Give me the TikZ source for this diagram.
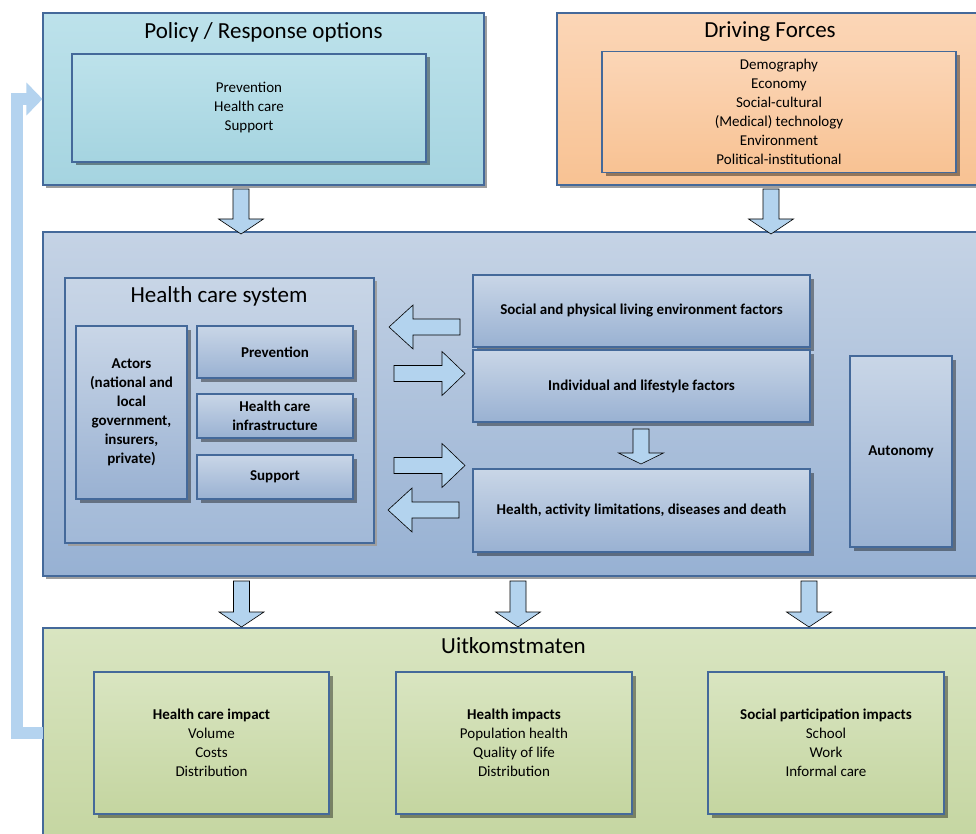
\documentclass[tikz,border=0pt]{standalone}
\usepackage{fontspec}
\setmainfont{Carlito}
\usetikzlibrary{shadows,arrows.meta}
\definecolor{bordercol}{HTML}{44699A}
\definecolor{arrowcol}{HTML}{B3D3EE}
\definecolor{fbcol}{HTML}{B4D3EF}
\definecolor{polT}{HTML}{BDE2EB}
\definecolor{polB}{HTML}{A5D4E0}
\definecolor{drvT}{HTML}{FBD6B7}
\definecolor{drvB}{HTML}{F8C293}
\definecolor{midT}{HTML}{C5D3E5}
\definecolor{midB}{HTML}{97B1D3}
\definecolor{grnT}{HTML}{D9E5C1}
\definecolor{grnB}{HTML}{C4D5A0}
\definecolor{inT}{HTML}{C9D6E7}
\definecolor{inB}{HTML}{99B1D2}
\tikzset{
  box/.style={draw=bordercol, line width=1.1pt, rectangle, inner sep=0pt, align=center,
    font=\fontsize{15}{19}\selectfont},
  outer/.style={box, drop shadow={shadow xshift=3pt, shadow yshift=-3pt, fill=black!38, opacity=1}},
  inner/.style={box, drop shadow={shadow xshift=3.5pt, shadow yshift=-3.5pt, fill=black, opacity=0.4}},
  bfbox/.style={inner, font=\fontsize{15}{19}\selectfont\bfseries},
  title/.style={font=\fontsize{23}{28}\selectfont, inner sep=0pt},
  blockarrow/.style={draw=black, line width=0.6pt, fill=arrowcol, line join=miter},
  pics/darrow/.style 2 args={code={
    \path[blockarrow] (-8,0) -- (-8,{#1-#2}) -- (-22.5,{#1-#2}) -- (0,#1) -- (22.5,{#1-#2}) -- (8,{#1-#2}) -- (8,0) -- cycle;
  }},
  pics/harrow/.style 2 args={code={
    \path[blockarrow] (0,-8) -- ({#1-#2},-8) -- ({#1-#2},-22) -- (#1,0) -- ({#1-#2},22) -- ({#1-#2},8) -- (0,8) -- cycle;
  }},
}
\begin{document}
\begin{tikzpicture}[x=1pt,y=-1pt]
\useasboundingbox (0,0) rectangle (976,834);
\fill[white] (0,0) rectangle (976,834);

% feedback arrow
\coordinate (fbstart) at (43,733);
\coordinate (fbcorner1) at (16.5,733);
\coordinate (fbcorner2) at (16.5,99);

% outer boxes
\node[outer, top color=polT, bottom color=polB, minimum width=441, minimum height=172] (policy) at (263.5,99) {};
\node[title] (policytitle) at (263.5,32) {Policy / Response options};
\node[inner, top color=polT, bottom color=polB, minimum width=354, minimum height=108] (policyin) at (249,108) {Prevention\\Health care\\Support};

\node[outer, top color=drvT, bottom color=drvB, minimum width=427, minimum height=172] (driving) at (770.5,99) {};
\node[title] (drivingtitle) at (770,32) {Driving Forces};
\node[inner, top color=drvT, bottom color=drvB, minimum width=354, minimum height=121] (drivingin) at (779,112) {Demography\\Economy\\Social-cultural\\(Medical) technology\\Environment\\Political-institutional};

\node[outer, top color=midT, bottom color=midB, minimum width=941, minimum height=344] (middle) at (513.5,404) {};

\node[outer, top color=midT!95!white, bottom color=midB!90!white, minimum width=309, minimum height=265] (hcs) at (219.5,410.5) {};
\node[title] (hcstitle) at (219,296) {Health care system};
\node[bfbox, top color=inT, bottom color=inB, minimum width=111, minimum height=173] (actors) at (131.5,412.5) {Actors\\(national and\\local\\government,\\insurers,\\private)};
\node[bfbox, top color=inT, bottom color=inB, minimum width=156, minimum height=52] (prev) at (275,352) {Prevention};
\node[bfbox, top color=inT, bottom color=inB, minimum width=156, minimum height=44] (infra) at (275,416) {Health care\\infrastructure};
\node[bfbox, top color=inT, bottom color=inB, minimum width=156, minimum height=44] (support) at (275,477) {Support};

\node[bfbox, top color=inT, bottom color=inB, minimum width=337, minimum height=72] (social) at (641.5,311) {Social and physical living environment factors};
\node[bfbox, top color=inT, bottom color=inB, minimum width=337, minimum height=72] (indiv) at (641.5,386) {Individual and lifestyle factors};
\node[bfbox, top color=inT, bottom color=inB, minimum width=337, minimum height=83] (hald) at (641.5,510.5) {Health, activity limitations, diseases and death};
\node[bfbox, top color=inT, bottom color=inB, minimum width=102, minimum height=191] (auton) at (901,451.5) {Autonomy};

\node[outer, top color=grnT, bottom color=grnB, minimum width=941, minimum height=222] (green) at (513.5,739) {};
\node[title] (greentitle) at (513.5,646) {Uitkomstmaten};
\node[inner, top color=grnT, bottom color=grnB, minimum width=235, minimum height=142] (gi1) at (211.5,743) {\textbf{Health care impact}\\Volume\\Costs\\Distribution};
\node[inner, top color=grnT, bottom color=grnB, minimum width=236, minimum height=142] (gi2) at (514,743) {\textbf{Health impacts}\\Population health\\Quality of life\\Distribution};
\node[inner, top color=grnT, bottom color=grnB, minimum width=236, minimum height=142] (gi3) at (826,743) {\textbf{Social participation impacts}\\School\\Work\\Informal care};

% block arrows
\pic (a1) at (241,189) {darrow={45}{15}};
\pic (a2) at (771,189) {darrow={45}{15}};
\pic (a3) at (641,429) {darrow={35}{11}};
\pic (a4) at (241.5,581) {darrow={46}{15}};
\pic (a5) at (518,581) {darrow={46}{15}};
\pic (a6) at (809,581) {darrow={46}{15}};
\pic[xscale=-1] (h1) at (460,327) {harrow={71}{24}};
\pic (h2) at (394,373.5) {harrow={71}{23}};
\pic (h3) at (394,465.5) {harrow={71}{23}};
\pic[xscale=-1] (h4) at (459,510) {harrow={71}{24}};

% feedback connector
\draw[fbcol, line width=12pt, line join=miter, -{Triangle[length=16pt,width=32pt]}]
  (fbstart) -- (fbcorner1) -- (fbcorner2) -- (policy.west);
\end{tikzpicture}
\end{document}
